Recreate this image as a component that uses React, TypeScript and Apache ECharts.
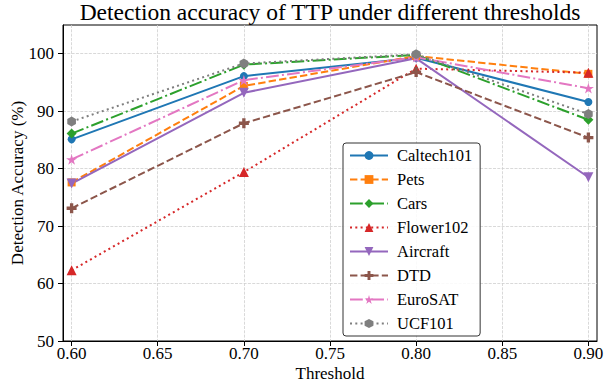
import React, { useEffect, useRef } from "react";
import * as echarts from "echarts";

const thresholds = [0.6, 0.7, 0.8, 0.9];
const xTicks = [0.6, 0.65, 0.7, 0.75, 0.8, 0.85, 0.9];
const yTicks = [50, 60, 70, 80, 90, 100];

const caltech101 = [85.1, 96.1, 99.3, 91.6];
const pets = [77.6, 94.4, 99.6, 96.5];
const cars = [86.1, 98.1, 99.8, 88.5];
const flower102 = [62.3, 79.4, 97.4, 96.7];
const aircraft = [77.4, 93.2, 99.2, 78.5];
const dtd = [73.1, 87.9, 96.8, 85.4];
const eurosat = [81.6, 95.4, 99.4, 94.0];
const ucf101 = [88.2, 98.3, 99.9, 89.5];

const FONT = "'Liberation Serif', 'Times New Roman', serif";

const PLUS = "path://M-1,-3L1,-3L1,-1L3,-1L3,1L1,1L1,3L-1,3L-1,1L-3,1L-3,-1L-1,-1Z";
const STAR =
  "path://M0,-1L0.2245,-0.309L0.951,-0.309L0.363,0.118L0.588,0.809L0,0.382L-0.588,0.809L-0.363,0.118L-0.951,-0.309L-0.2245,-0.309Z";
const HEX = "path://M0,-1L0.866,-0.5L0.866,0.5L0,1L-0.866,0.5L-0.866,-0.5Z";
const TRI_DOWN = "path://M-1,-1L1,-1L0,1Z";

const seriesDefs = [
  { name: "Caltech101", data: caltech101, color: "#1f77b4", dash: "solid", symbol: "circle", size: 8 },
  { name: "Pets", data: pets, color: "#ff7f0e", dash: [7.4, 3.2], symbol: "rect", size: 8 },
  { name: "Cars", data: cars, color: "#2ca02c", dash: [12.8, 3.2, 2, 3.2], symbol: "diamond", size: 10 },
  { name: "Flower102", data: flower102, color: "#d62728", dash: [2, 3.3], symbol: "triangle", size: 10 },
  { name: "Aircraft", data: aircraft, color: "#9467bd", dash: "solid", symbol: TRI_DOWN, size: 10 },
  { name: "DTD", data: dtd, color: "#8c564b", dash: [7.4, 3.2], symbol: PLUS, size: 10 },
  { name: "EuroSAT", data: eurosat, color: "#e377c2", dash: [12.8, 3.2, 2, 3.2], symbol: STAR, size: 11 },
  { name: "UCF101", data: ucf101, color: "#7f7f7f", dash: [2, 3.3], symbol: HEX, size: 10 },
];

export default function App() {
  const ref = useRef<HTMLDivElement>(null);
  useEffect(() => {
    if (!ref.current) return;
    const chart = echarts.init(ref.current, null, { renderer: "svg" });
    const gridLine = { show: true, lineStyle: { color: "#cfcfcf", width: 0.8, type: [3, 1.3] } };
    chart.setOption({
      animation: false,
      backgroundColor: "#fff",
      title: {
        text: "Detection accuracy of TTP under different thresholds",
        left: 330,
        textAlign: "center",
        top: 0,
        padding: 0,
        textStyle: { fontFamily: FONT, fontSize: 23.5, fontWeight: "normal", color: "#000" },
      },
      grid: {
        left: 63,
        right: 11,
        top: 25,
        bottom: 42,
        show: true,
        borderColor: "#000",
        borderWidth: 1,
        containLabel: false,
        outerBoundsMode: "none",
      },
      xAxis: {
        type: "value",
        min: 0.595,
        max: 0.905,
        name: "Threshold",
        nameLocation: "middle",
        nameGap: 24,
        nameMoveOverlap: false,
        nameTextStyle: { fontFamily: FONT, fontSize: 17, color: "#000" },
        axisLine: { show: true, lineStyle: { color: "#000", width: 1 } },
        axisTick: { show: true, inside: false, length: 5, customValues: xTicks, lineStyle: { color: "#000" } },
        axisLabel: {
          customValues: xTicks,
          formatter: (v: number) => v.toFixed(2),
          fontFamily: FONT,
          fontSize: 17,
          color: "#000",
          margin: 4,
        },
        splitLine: gridLine,
      },
      yAxis: {
        type: "value",
        min: 50,
        max: 105,
        interval: 10,
        name: "Detection Accuracy (%)",
        nameLocation: "middle",
        nameGap: 37,
        nameMoveOverlap: false,
        nameTextStyle: { fontFamily: FONT, fontSize: 17, color: "#000" },
        axisLine: { show: true, lineStyle: { color: "#000", width: 1 } },
        axisTick: { show: true, inside: false, length: 5, customValues: yTicks, lineStyle: { color: "#000" } },
        axisLabel: {
          customValues: yTicks,
          fontFamily: FONT,
          fontSize: 17,
          color: "#000",
          margin: 9,
        },
        splitLine: gridLine,
      },
      legend: {
        orient: "vertical",
        left: 343,
        top: 143,
        padding: [4, 8, 4, 6],
        itemWidth: 38,
        itemHeight: 11,
        itemGap: 7,
        borderColor: "#333",
        borderWidth: 1,
        borderRadius: 3,
        backgroundColor: "rgba(255,255,255,0.85)",
        textStyle: { fontFamily: FONT, fontSize: 16.5, color: "#000", padding: [0, 0, 0, 4] },
        data: seriesDefs.map((s) => s.name),
      },
      series: seriesDefs.map((s) => ({
        name: s.name,
        type: "line",
        data: thresholds.map((t, i) => [t, s.data[i]]),
        symbol: s.symbol,
        symbolSize: s.size,
        symbolKeepAspect: true,
        showAllSymbol: true,
        lineStyle: { color: s.color, width: 2, type: s.dash },
        itemStyle: { color: s.color, borderWidth: 0 },
        emphasis: { disabled: true },
      })),
    });
    return () => chart.dispose();
  }, []);
  return <div ref={ref} style={{ width: 608, height: 383, position: "absolute", left: 0, top: 0 }} />;
}
